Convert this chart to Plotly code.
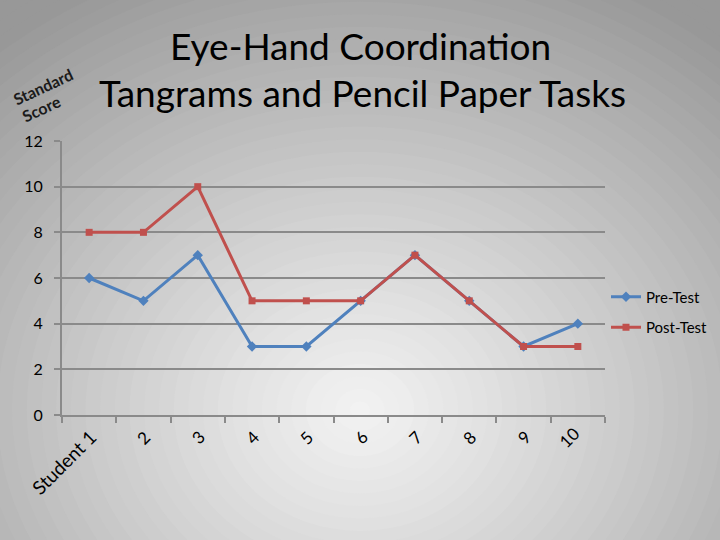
import plotly.graph_objects as go

students = list(range(1, 11))
x_labels = ["Student 1", "2", "3", "4", "5", "6", "7", "8", "9", "10"]
pre_test = [6, 5, 7, 3, 3, 5, 7, 5, 3, 4]
post_test = [8, 8, 10, 5, 5, 5, 7, 5, 3, 3]
y_ticks = [0, 2, 4, 6, 8, 10, 12]

BLUE = "#4F81BD"
RED = "#C0504D"

# plot area in pixels
L, R, T, B = 62, 605, 141, 415
PW, PH = R - L, B - T

fig = go.Figure()
fig.add_trace(go.Scatter(x=students, y=pre_test, name="Pre-Test", mode="lines+markers",
                         legendgroup="a",
                         line=dict(color=BLUE, width=3),
                         marker=dict(symbol="diamond", size=8, color=BLUE)))
fig.add_trace(go.Scatter(x=students, y=post_test, name="Post-Test", mode="lines+markers",
                         legendgroup="b",
                         line=dict(color=RED, width=3),
                         marker=dict(symbol="square", size=7, color=RED)))

# radial gray gradient background
shapes = []
cx, cy = 360, 410
N = 50
rmax = 720
def lerp(a, b, t):
    return int(round(a + (b - a) * t))
for i in range(N):
    t = i / (N - 1)
    r = rmax * (1 - t) + 10
    g = lerp(0xf2, 0x98, min(1.0, ((r - 10) / 560)) ** 1.1)
    col = f"rgb({g},{g},{g})"
    shapes.append(dict(type="circle", xref="paper", yref="paper", layer="below",
                       x0=(cx - r - L) / PW, x1=(cx + r - L) / PW,
                       y0=(B - (cy + r * 0.85)) / PH, y1=(B - (cy - r * 0.85)) / PH,
                       fillcolor=col, line=dict(width=0)))

annotations = []
# title
annotations.append(dict(text="Eye-Hand Coordination", xref="paper", yref="paper",
                        x=(360 - L) / PW, y=(B - 45) / PH, showarrow=False,
                        font=dict(family="Lato", size=37, color="#000000"),
                        xanchor="center", yanchor="middle"))
annotations.append(dict(text="Tangrams and Pencil Paper Tasks", xref="paper", yref="paper",
                        x=(362 - L) / PW, y=(B - 92) / PH, showarrow=False,
                        font=dict(family="Lato", size=37, color="#000000"),
                        xanchor="center", yanchor="middle"))
# y axis label
annotations.append(dict(text="<b>Standard</b>", xref="paper", yref="paper",
                        x=(43 - L) / PW, y=(B - 86) / PH, showarrow=False, textangle=-25,
                        font=dict(family="Lato", size=16, color="#1a1a1a"),
                        xanchor="center", yanchor="middle"))
annotations.append(dict(text="<b>Score</b>", xref="paper", yref="paper",
                        x=(41 - L) / PW, y=(B - 108) / PH, showarrow=False, textangle=-25,
                        font=dict(family="Lato", size=16, color="#1a1a1a"),
                        xanchor="center", yanchor="middle"))
# x tick labels
for s, lab in zip(students, x_labels):
    if s == 1:
        annotations.append(dict(text=lab, x=s, xref="x", yref="paper", y=(B - 462) / PH,
                                xshift=-26, showarrow=False, textangle=-45,
                                font=dict(family="Lato", size=19, color="#000000"),
                                xanchor="center", yanchor="middle"))
    else:
        xs = -9 if s == 10 else 0
        annotations.append(dict(text=lab, x=s, xref="x", yref="paper", y=(B - 437) / PH,
                                xshift=xs, showarrow=False, textangle=-45,
                                font=dict(family="Lato", size=17, color="#000000"),
                                xanchor="center", yanchor="middle"))

fig.update_layout(
    width=720, height=540,
    margin=dict(l=L, r=720 - R, t=T, b=540 - B, autoexpand=False),
    paper_bgcolor="#989898",
    plot_bgcolor="rgba(0,0,0,0)",
    shapes=shapes,
    annotations=annotations,
    showlegend=True,
    legend=dict(xref="container", yref="container", x=606 / 720, y=1 - 312 / 540,
                xanchor="left", yanchor="middle",
                bgcolor="rgba(0,0,0,0)", font=dict(family="Lato", size=15, color="#000000"),
                tracegroupgap=8, itemwidth=30),
    xaxis=dict(range=[0.5, 10.5], tickvals=[i + 0.5 for i in range(0, 11)],
               showticklabels=False, ticks="outside", ticklen=6, tickcolor="#8a8a8a", tickwidth=2,
               showgrid=False, zeroline=False, showline=True, linecolor="#8a8a8a", linewidth=2,
               fixedrange=True),
    yaxis=dict(range=[0, 12], tickvals=y_ticks, ticks="outside", ticklen=6,
               tickcolor="#8a8a8a", tickwidth=2, ticklabelstandoff=8,
               tickfont=dict(family="Lato", size=16, color="#000000"),
               showgrid=True, gridcolor="#8a8a8a", gridwidth=2, zeroline=False,
               showline=True, linecolor="#8a8a8a", linewidth=2, fixedrange=True),
)

fig.write_html("out.html", config={"displayModeBar": False},
               post_script="document.body.style.margin='0';document.body.style.overflow='hidden';")
